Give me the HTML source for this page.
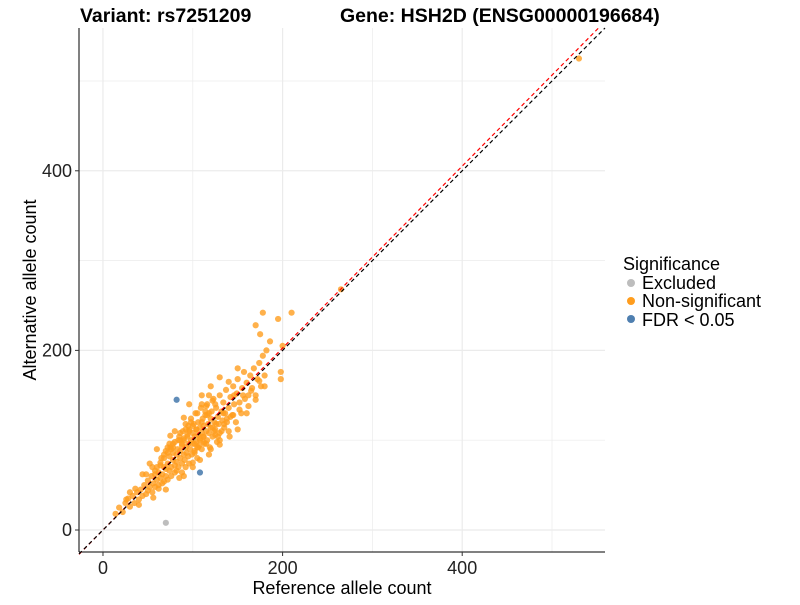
<!DOCTYPE html>
<html><head><meta charset="utf-8"><style>
body{margin:0;background:#fff;font-family:"Liberation Sans",Arial,sans-serif}
svg text{font-family:"Liberation Sans",Arial,sans-serif}
</style></head><body>
<svg id="chart" width="800" height="600">
<g id="grid"></g>
<g id="lines"></g>
<g id="points"></g>
<g id="axes"></g>
<text x="80" y="22" font-size="19.5" font-weight="bold">Variant: rs7251209</text>
<text x="340" y="22" font-size="19.5" font-weight="bold">Gene: HSH2D (ENSG00000196684)</text>
<text x="342" y="594" font-size="18" text-anchor="middle">Reference allele count</text>
<text transform="translate(36,290) rotate(-90)" font-size="18" text-anchor="middle">Alternative allele count</text>
<g>
<text x="623" y="270" font-size="18">Significance</text>
<circle cx="631" cy="283" r="4" fill="#bdbdbd"/>
<text x="642" y="289" font-size="18">Excluded</text>
<circle cx="631" cy="301" r="4" fill="#ff9d1e"/>
<text x="642" y="307" font-size="18">Non-significant</text>
<circle cx="631" cy="319" r="4" fill="#4f7fb0"/>
<text x="642" y="326" font-size="18">FDR &lt; 0.05</text>
</g>
</svg>
<script>
const xTicks=[0,200,400];
const yTicks=[0,200,400];
const minorTicks=[100,300,500];
const nsRef=[14,18,22,25,28,30,33,35,38,40,42,44,46,48,50,50,52,54,55,56,58,58,60,60,62,62,64,64,66,66,68,68,70,70,70,72,72,74,74,75,76,76,78,78,80,80,80,82,82,83,84,85,86,86,88,88,89,90,90,91,92,92,93,94,95,96,96,97,98,98,99,100,100,101,102,102,103,104,104,105,106,106,107,108,108,109,110,110,111,112,112,113,114,115,116,116,117,118,119,120,120,121,122,123,124,125,126,127,128,129,130,130,132,133,134,135,136,137,138,140,141,142,144,145,146,148,149,150,152,154,155,157,158,160,162,164,165,168,170,172,174,176,178,180,182,175,170,186,195,178,210,200,198,198,265,530,30,40,56,48,80,100,120,110,130,150,140,68,84,92,64,76,88,96,104,112,118,126,72,58,86,94,102,110,122,134,146,78,90,100,108,116,124,
60,75,90,110,120,130,140,100,90,70,130,150,160,170,180,65,78,95,105,115,125,135,145,55,62,72,82,92,102,112,122,132,142,152,162,85,95,105,115,125,68,74,88,98,108,118,128,138,44,52,36,26,156,166,174,118,96,86,106,114];
const nsAlt=[18,25,20,30,35,26,38,30,42,34,45,38,50,40,55,44,48,60,42,52,62,48,56,70,50,64,58,75,62,52,70,80,60,68,88,74,56,66,82,92,70,60,78,86,72,98,64,84,76,90,70,104,80,88,94,74,110,84,100,78,92,118,86,104,96,74,112,90,100,124,84,108,96,118,88,104,130,98,112,80,106,120,94,114,102,136,108,90,124,104,116,96,128,110,100,140,118,108,92,124,114,132,104,146,120,112,136,98,126,118,150,108,132,122,142,114,130,156,124,136,104,148,128,160,140,120,152,168,142,130,158,176,146,164,138,172,155,180,150,168,186,160,194,172,200,218,228,210,235,242,242,205,168,176,268,525,42,28,36,62,110,70,90,140,95,112,165,54,100,70,72,90,96,110,112,104,130,118,86,66,100,106,96,120,114,130,150,92,102,116,100,128,110,
90,105,125,150,160,100,110,75,60,45,170,180,130,145,160,80,96,82,130,96,140,118,128,70,46,92,66,112,86,98,144,110,126,134,150,58,116,92,138,106,84,96,64,120,78,150,104,120,62,74,46,34,150,158,166,84,140,108,92,132];
const exRef=[70], exAlt=[8];
const fdrRef=[82,108], fdrAlt=[145,64];
const X0=79,X1=605,Y0=552,Y1=28, D0=-26.7,D1=559, E0=-24.5,E1=559;
const sx=v=>X0+(v-D0)/(D1-D0)*(X1-X0);
const sy=v=>Y0-(v-E0)/(E1-E0)*(Y0-Y1);
const NS="http://www.w3.org/2000/svg";
function mk(t,a,p){const e=document.createElementNS(NS,t);for(const k in a)e.setAttribute(k,a[k]);p.appendChild(e);return e;}
const grid=document.getElementById('grid');
xTicks.concat(minorTicks).forEach(v=>{const l=mk('line',{x1:sx(v),x2:sx(v),y1:Y1,y2:Y0,stroke:'#ebebeb','stroke-width':xTicks.includes(v)?1.2:0.7},grid);

});
yTicks.concat(minorTicks).forEach(v=>{const l=mk('line',{x1:X0,x2:X1,y1:sy(v),y2:sy(v),stroke:'#ebebeb','stroke-width':yTicks.includes(v)?1.2:0.7},grid);

});
const pts=document.getElementById('points');
function draw(xs,ys,col,op,name){xs.forEach((x,i)=>{const c=mk('circle',{cx:sx(x),cy:sy(ys[i]),r:3.1,fill:col,'fill-opacity':op},pts);

});}
draw(nsRef,nsAlt,'#ff9d1e',0.8,'nonsig-point');
draw(exRef,exAlt,'#bdbdbd',1,'excluded-point');
draw(fdrRef,fdrAlt,'#4f7fb0',0.9,'fdr-point');
const lines=document.getElementById('lines');
const slopes=[1.013,1];
const lr=mk('line',{x1:sx(D0),y1:sy(D0*slopes[0]),x2:sx(E1/slopes[0]),y2:sy(E1),stroke:'#ff0000','stroke-width':1.2,'stroke-dasharray':'4,3'},lines);


const lb=mk('line',{x1:sx(D0),y1:sy(D0),x2:sx(D1),y2:sy(D1),stroke:'#000','stroke-width':1.2,'stroke-dasharray':'4,3'},lines);


document.getElementById('chart').appendChild(lines);
const ax=document.getElementById('axes');
const a1=mk('line',{x1:X0,x2:X0,y1:Y1,y2:Y0,stroke:'#000','stroke-width':1},ax);


const a2=mk('line',{x1:X0,x2:X1,y1:Y0,y2:Y0,stroke:'#000','stroke-width':1},ax);


xTicks.forEach(v=>{const t=mk('line',{x1:sx(v),x2:sx(v),y1:Y0,y2:Y0+4,stroke:'#333'},ax);


const tx=mk('text',{x:sx(v),y:Y0+22,'font-size':18,'text-anchor':'middle',fill:'#222'},ax);tx.textContent=v;

});
yTicks.forEach(v=>{const t=mk('line',{x1:X0-4,x2:X0,y1:sy(v),y2:sy(v),stroke:'#333'},ax);


const tx=mk('text',{x:X0-7,y:sy(v)+6,'font-size':18,'text-anchor':'end',fill:'#222'},ax);tx.textContent=v;

});
</script>
</body></html>
